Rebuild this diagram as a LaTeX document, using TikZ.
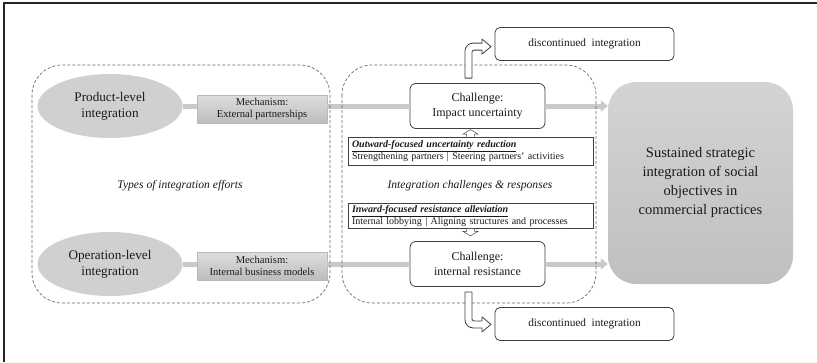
\documentclass[tikz,border=0pt]{standalone}
\usepackage{fontspec}
\setmainfont{Liberation Serif}
\usetikzlibrary{arrows.meta,shapes.geometric,calc}
\definecolor{dashc}{HTML}{5B6B80}
\definecolor{ellc}{HTML}{D0D0D0}
\definecolor{linec}{HTML}{C9C9C9}
\definecolor{edgec}{HTML}{404040}
\definecolor{txtc}{HTML}{1A1A1A}
\begin{document}
\begin{tikzpicture}[x=1pt,y=-1pt,
 every node/.style={text=txtc},
 ell/.style={ellipse, fill=ellc, minimum width=145pt, minimum height=64pt, inner sep=0pt, align=center, font=\fontsize{13.2}{16}\selectfont},
 mech/.style={rectangle, top color=black!13, bottom color=black!26, draw=black!28, line width=0.3pt, minimum width=130pt, minimum height=28pt, inner sep=0pt, align=center, font=\fontsize{10.6}{12}\selectfont},
 chal/.style={rectangle, rounded corners=6pt, draw=edgec, fill=white, line width=0.8pt, minimum width=135pt, minimum height=45pt, inner sep=0pt, align=center, font=\fontsize{12}{14.5}\selectfont},
 disc/.style={rectangle, rounded corners=5pt, draw=edgec, fill=white, line width=0.8pt, minimum width=179pt, minimum height=33pt, inner sep=0pt, font=\fontsize{11.3}{13}\selectfont},
 resp/.style={rectangle, draw=edgec, fill=white, line width=0.8pt, minimum width=245pt, inner xsep=4pt, inner ysep=1pt, align=left, text width=237pt, font=\fontsize{10}{11.2}\selectfont},
 goal/.style={rectangle, rounded corners=28pt, top color=black!17, bottom color=black!25, minimum width=185pt, minimum height=202pt, inner sep=0pt, align=center, font=\fontsize{14.5}{19}\selectfont},
 conn/.style={draw=linec, line width=5pt},
 dbox/.style={draw=dashc, dash pattern=on 3pt off 2pt, line width=0.7pt, rounded corners=30pt},
 lab/.style={font=\itshape\fontsize{11.6}{13}\selectfont},
 bent/.style={draw=edgec, fill=white, line width=0.8pt, line join=round},
 tiny/.style={draw=edgec, fill=white, line width=0.5pt}
]
\useasboundingbox (0,0) rectangle (817,362);
\draw[line width=1.5pt, black!85] (4,362) -- (4,3) -- (817,3);

% nodes
\node[ell] (pe) at (110,106) {Product-level\\integration};
\node[ell] (oe) at (110,264) {Operation-level\\integration};
\node[mech] (m1) at (262,109) {Mechanism:\\External partnerships};
\node[mech] (m2) at (262,266) {Mechanism:\\Internal business models};
\node[chal] (c1) at (477.5,106) {Challenge:\\Impact uncertainty};
\node[chal] (c2) at (477.5,264) {Challenge:\\internal resistance};
\node[disc] (d1) at (584.5,44) {discontinued\ \ integration};
\node[disc] (d2) at (584.5,324) {discontinued\ \ integration};
\node[resp, minimum height=28pt] (r1) at (470.5,151) {\textbf{\textit{\underline{Outward-focused uncertainty reduction}}}\\Strengthening partners | Steering partners' activities};
\node[resp, minimum height=25pt] (r2) at (470.5,216) {\textbf{\textit{\underline{Inward-focused resistance alleviation}}}\\Internal lobbying | Aligning structures and processes};
\node[goal] (g) at (700.5,183) {Sustained strategic\\integration of social\\objectives in\\commercial practices};
\node[lab] (t1) at (180,186) {Types of integration efforts};
\node[lab] (t2) at (470,186) {Integration challenges \& responses};

% gray connectors
\draw[conn] (pe.east) -- (m1.west |- pe.east);
\draw[conn] (m1.east |- c1.west) -- (c1.west);
\draw[conn, -{Triangle[length=7pt,width=11pt]}] (c1.east) -- (g.west |- c1.east);
\draw[conn] (oe.east) -- (m2.west |- oe.east);
\draw[conn] (m2.east |- c2.west) -- (c2.west);
\draw[conn, -{Triangle[length=7pt,width=11pt]}] (c2.east) -- (g.west |- c2.east);

% dashed groups
\draw[dbox] (32,65) rectangle (330,303);
\draw[dbox] (342,65) rectangle (596,303);

% bent arrows
\begin{scope}[shift={(c1.north)}]
\draw[bent] (-12.5,-5) -- (-12.5,-32) .. controls (-12.5,-36.4) and (-8.9,-40) .. (-4.5,-40) -- (4.5,-40) -- (4.5,-44) -- (13.5,-36.5) -- (4.5,-29) -- (4.5,-33) -- (-3.5,-33) .. controls (-4.5,-33) and (-5.5,-32) .. (-5.5,-31) -- (-5.5,-5) -- cycle;
\end{scope}
\begin{scope}[shift={(c2.south)}]
\draw[bent] (-12.5,5) -- (-12.5,33) .. controls (-12.5,37.4) and (-8.9,41) .. (-4.5,41) -- (4.5,41) -- (4.5,45) -- (13.5,37.5) -- (4.5,30) -- (4.5,34) -- (-3.5,34) .. controls (-4.5,34) and (-5.5,33) .. (-5.5,32) -- (-5.5,5) -- cycle;
\end{scope}

% tiny arrows
\begin{scope}[shift={(r1.north)}]
\draw[tiny] (-4,0) -- (-4,-2.5) -- (-7.5,-2.5) -- (0,-7) -- (7.5,-2.5) -- (4,-2.5) -- (4,0);
\end{scope}
\begin{scope}[shift={(r2.south)}]
\draw[tiny] (-4,0) -- (-4,2.5) -- (-7.5,2.5) -- (0,7) -- (7.5,2.5) -- (4,2.5) -- (4,0);
\end{scope}
\end{tikzpicture}
\end{document}
